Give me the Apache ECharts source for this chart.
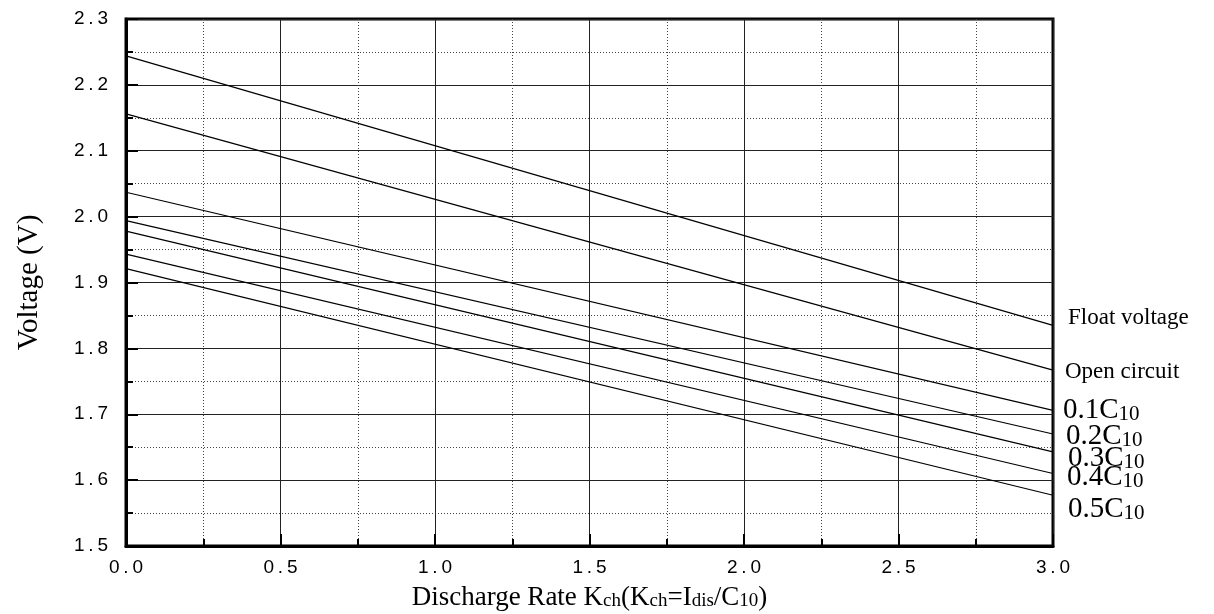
<!DOCTYPE html>
<html>
<head>
<meta charset="utf-8">
<script src="https://cdn.jsdelivr.net/npm/echarts@6/dist/echarts.min.js"></script>
<style>
html,body{margin:0;padding:0;background:#fff;}
#c{width:1214px;height:614px;}
</style>
</head>
<body>
<div id="c"></div>
<script>
// Data
const xRates = [0, 3.0];
const floatVoltage = [2.244, 1.835];
const openCircuit = [2.156, 1.767];
const c01 = [2.037, 1.706];
const c02 = [1.994, 1.670];
const c03 = [1.978, 1.643];
const c04 = [1.943, 1.610];
const c05 = [1.921, 1.577];
const seriesNames = ['Float voltage', 'Open circuit', '0.1C10', '0.2C10', '0.3C10', '0.4C10', '0.5C10'];
const seriesValues = [floatVoltage, openCircuit, c01, c02, c03, c04, c05];
const labelTexts = ['{t|Float voltage}', '{t|Open circuit}', '{b|0.1C}{s|10}', '{b|0.2C}{s|10}', '{b|0.3C}{s|10}', '{b|0.4C}{s|10}', '{b|0.5C}{s|10}'];
const labelOffsets = [[15, -7], [12, 2], [10, 0], [13, 2], [15, 7], [14, 4], [15, 14]];

const spaced = v => v.toFixed(1).split('').join('\u2009');

const chart = echarts.init(document.getElementById('c'));
const serif = '"Liberation Serif", "DejaVu Serif", serif';
const sans = '"Liberation Sans", Arial, sans-serif';

const richLabel = {
  t: { fontFamily: serif, fontSize: 23, color: '#000' },
  b: { fontFamily: serif, fontSize: 29, color: '#000', lineHeight: 29 },
  s: { fontFamily: serif, fontSize: 21, color: '#000', lineHeight: 11, verticalAlign: 'bottom' }
};

const series = seriesNames.map((n, i) => ({
  name: n,
  type: 'line',
  data: xRates.map((x, j) => [x, seriesValues[i][j]]),
  showSymbol: false,
  symbol: 'none',
  lineStyle: { color: '#000', width: 1.2 },
  silent: true,
  animation: false,
  endLabel: {
    show: true,
    formatter: labelTexts[i],
    rich: richLabel,
    distance: 0,
    offset: labelOffsets[i],
    align: 'left'
  }
}));

chart.setOption({
  animation: false,
  grid: { left: 126, right: 161, top: 19, bottom: 68, outerBoundsMode: 'none', containLabel: false, show: true, borderColor: '#000', borderWidth: 3, backgroundColor: 'transparent' },
  xAxis: {
    type: 'value', min: 0, max: 3, interval: 0.5,
    name: 'Discharge Rate K{s|ch}(K{s|ch}=I{s|dis}/C{s|10})',
    nameLocation: 'middle', nameGap: 38,
    nameTextStyle: {
      fontFamily: serif, fontSize: 27, color: '#000',
      rich: {
        s: { fontFamily: serif, fontSize: 19, color: '#000', lineHeight: 8, verticalAlign: 'bottom' }
      }
    },
    axisLine: { show: true, lineStyle: { color: '#000', width: 3 } },
    axisTick: { show: true, inside: true, length: 12, lineStyle: { color: '#000', width: 2 } },
    minorTick: { show: true, splitNumber: 2, length: 7, lineStyle: { color: '#000', width: 2 } },
    axisLabel: { formatter: spaced, fontFamily: sans, fontSize: 19, color: '#000', margin: 12 },
    splitLine: { show: true, lineStyle: { color: '#222', width: 1 } },
    minorSplitLine: { show: true, lineStyle: { color: '#444', width: 1, type: [1, 2] } }
  },
  yAxis: {
    type: 'value', min: 1.5, max: 2.3, interval: 0.1,
    name: 'Voltage (V)',
    nameLocation: 'middle', nameGap: 82,
    nameTextStyle: { fontFamily: serif, fontSize: 29, color: '#000' },
    axisLine: { show: true, lineStyle: { color: '#000', width: 3 } },
    axisTick: { show: true, inside: true, length: 12, lineStyle: { color: '#000', width: 2 } },
    minorTick: { show: true, splitNumber: 2, length: 7, lineStyle: { color: '#000', width: 2 } },
    axisLabel: { formatter: spaced, fontFamily: sans, fontSize: 19, color: '#000', margin: 18 },
    splitLine: { show: true, lineStyle: { color: '#222', width: 1 } },
    minorSplitLine: { show: true, lineStyle: { color: '#444', width: 1, type: [1, 2] } }
  },
  series: series
});
</script>
</body>
</html>
